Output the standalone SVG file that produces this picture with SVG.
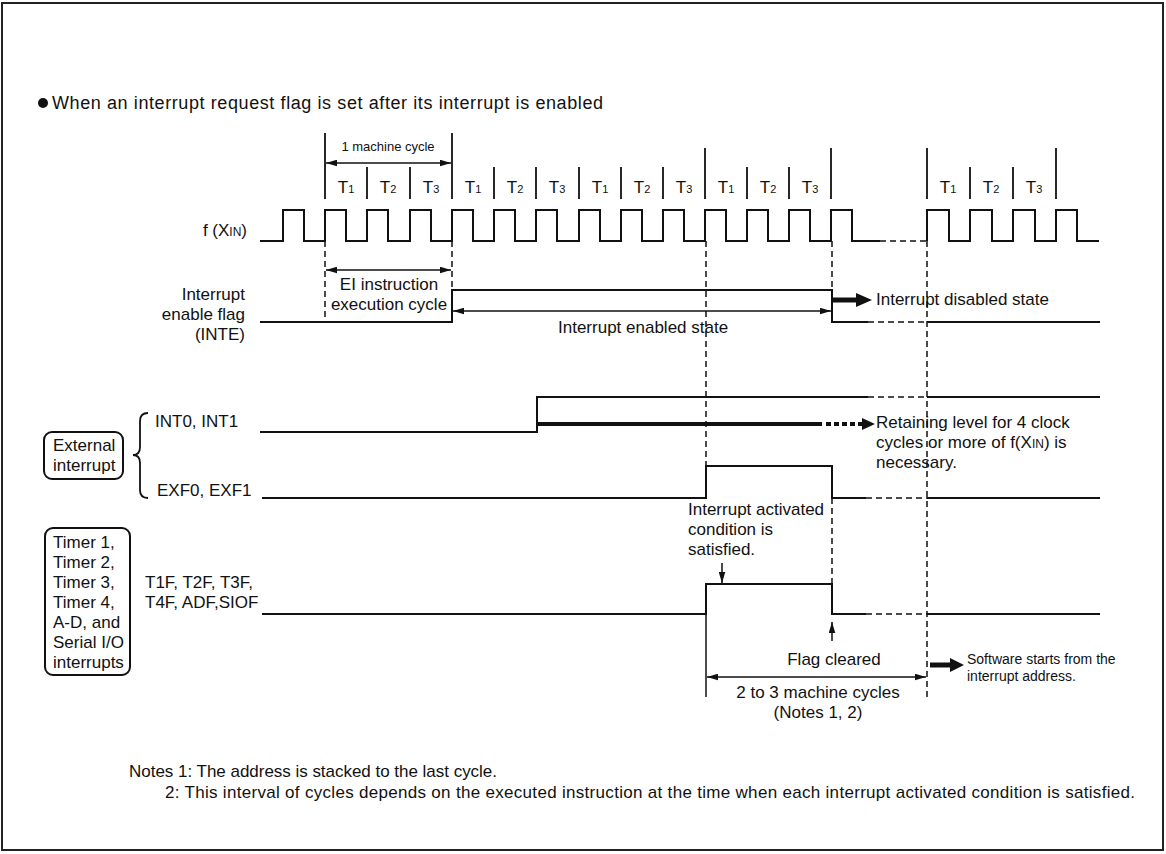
<svg xmlns="http://www.w3.org/2000/svg" width="1166" height="854" viewBox="0 0 1166 854">
<defs>
<marker id="ah" viewBox="0 0 10 6" refX="10" refY="3" markerWidth="11" markerHeight="7" markerUnits="userSpaceOnUse" orient="auto-start-reverse"><path d="M0,0 L10,3 L0,6 Z" fill="#111"/></marker>
</defs>
<style>
.t{font-family:"Liberation Sans",Arial,Helvetica,sans-serif;font-size:17px;fill:#111}
.m{text-anchor:middle}
.e{text-anchor:end}
.s{font-size:14px}
.xs{font-size:13px}
.h{font-size:18px}
.w{fill:none;stroke:#111;stroke-width:2}
.d{fill:none;stroke:#111;stroke-width:1.5;stroke-dasharray:6 4}
.a{fill:none;stroke:#111;stroke-width:1.5}
.k{fill:none;stroke:#111;stroke-width:1.8}
.box{fill:none;stroke:#111;stroke-width:2}
</style>
<rect x="0" y="0" width="1166" height="854" fill="#fff"/>
<rect x="2" y="3" width="1161" height="847" fill="none" stroke="#222" stroke-width="2"/>

<g id="title">
<circle cx="43" cy="103" r="5" fill="#111"/>
<text class="t h" x="52" y="109" textLength="551">When an interrupt request flag is set after its interrupt is enabled</text>
</g>

<g id="timing-scale">
<text class="t m xs" x="388" y="151">1 machine cycle</text>
<g class="k">
<path d="M325,133V199M452,133V199M705,148V199M831,148V199M927,148V199M1056,148V199"/>
<path d="M367,167V199M410,167V199M494,167V199M536,167V199M579,167V199M621,167V199M663,167V199M747,167V199M789,167V199M970,167V199M1013,167V199"/>
</g>
<g class="t m">
<text x="346" y="193">T<tspan font-size="11">1</tspan></text>
<text x="388" y="193">T<tspan font-size="11">2</tspan></text>
<text x="431" y="193">T<tspan font-size="11">3</tspan></text>
<text x="473" y="193">T<tspan font-size="11">1</tspan></text>
<text x="515" y="193">T<tspan font-size="11">2</tspan></text>
<text x="557" y="193">T<tspan font-size="11">3</tspan></text>
<text x="600" y="193">T<tspan font-size="11">1</tspan></text>
<text x="642" y="193">T<tspan font-size="11">2</tspan></text>
<text x="684" y="193">T<tspan font-size="11">3</tspan></text>
<text x="726" y="193">T<tspan font-size="11">1</tspan></text>
<text x="768" y="193">T<tspan font-size="11">2</tspan></text>
<text x="810" y="193">T<tspan font-size="11">3</tspan></text>
<text x="948" y="193">T<tspan font-size="11">1</tspan></text>
<text x="991" y="193">T<tspan font-size="11">2</tspan></text>
<text x="1034" y="193">T<tspan font-size="11">3</tspan></text>
</g>
</g>

<g id="clock">
<text class="t e" x="247" y="236">f (X<tspan font-size="12">IN</tspan>)</text>
<path class="w" d="M260,241H283V210H304V241H325V210H346V241H367V210H388V241H410V210H431V241H452V210H473V241H494V210H515V241H536V210H557V241H579V210H600V241H621V210H642V241H663V210H684V241H705V210H726V241H747V210H768V241H789V210H810V241H831V210H852V241H880"/>
<path class="d" d="M880,241H927"/>
<path class="w" d="M927,241V210H949V241H970V210H992V241H1013V210H1035V241H1056V210H1077V241H1099"/>
</g>

<g id="inte">
<text class="t e" x="245" y="300">Interrupt</text>
<text class="t e" x="245" y="320">enable flag</text>
<text class="t e" x="245" y="340">(INTE)</text>
<path class="w" d="M260,322H452V290H832V322H868"/>
<path class="d" d="M868,322H927"/>
<path class="w" d="M927,322H1100"/>
<text class="t m" x="389" y="290">EI instruction</text>
<text class="t m" x="389" y="310">execution cycle</text>
<text class="t" x="558" y="333">Interrupt enabled state</text>
<text class="t" x="876" y="305">Interrupt disabled state</text>
</g>

<g id="external-interrupt">
<rect class="box" x="44" y="432" width="79" height="47" rx="8"/>
<text class="t" x="53" y="451">External</text>
<text class="t" x="53" y="471">interrupt</text>
<path class="k" d="M148,413Q140,413 140,421V447Q140,455 133,455Q140,455 140,463V490Q140,498 148,498"/>
</g>

<g id="int0">
<text class="t" x="155" y="427">INT0, INT1</text>
<path class="w" d="M260,432H537V397H868"/>
<path class="d" d="M868,397H927"/>
<path class="w" d="M927,397H1100"/>
<text class="t" x="876" y="428">Retaining level for 4 clock</text>
<text class="t" x="876" y="448">cycles or more of f(X<tspan font-size="12">IN</tspan>) is</text>
<text class="t" x="876" y="468">necessary.</text>
</g>

<g id="exf0">
<text class="t" x="157" y="496">EXF0, EXF1</text>
<path class="w" d="M262,498H706V466H832V498H866"/>
<path class="d" d="M866,498H927"/>
<path class="w" d="M927,498H1100"/>
<text class="t" x="688" y="515">Interrupt activated</text>
<text class="t" x="688" y="535">condition is</text>
<text class="t" x="688" y="555">satisfied.</text>
</g>

<g id="timer-interrupts">
<rect class="box" x="45" y="528" width="85" height="147" rx="8"/>
<text class="t" x="53" y="548">Timer 1,</text>
<text class="t" x="53" y="568">Timer 2,</text>
<text class="t" x="53" y="588">Timer 3,</text>
<text class="t" x="53" y="608">Timer 4,</text>
<text class="t" x="53" y="628">A-D, and</text>
<text class="t" x="53" y="648">Serial I/O</text>
<text class="t" x="53" y="668">interrupts</text>
</g>

<g id="t1f">
<text class="t" x="145" y="588">T1F, T2F, T3F,</text>
<text class="t" x="145" y="608">T4F, ADF,SIOF</text>
<path class="w" d="M262,614H706V584H832V614H866"/>
<path class="d" d="M866,614H927"/>
<path class="w" d="M927,614H1100"/>
<text class="t m" x="834" y="665">Flag cleared</text>
<text class="t m" x="818" y="698">2 to 3 machine cycles</text>
<text class="t m" x="818" y="718">(Notes 1, 2)</text>
<text class="t s" x="967" y="664">Software starts from the</text>
<text class="t s" x="967" y="681">interrupt address.</text>
</g>

<g id="connectors">
<path class="d" d="M325,241V322M452,241V290M706,241V466M832,241V290M832,498V584M927,241V697"/>
<path class="a" d="M706,614V697"/>
<path class="a" d="M326,163H451" marker-start="url(#ah)" marker-end="url(#ah)"/>
<path class="a" d="M326,270H451" marker-start="url(#ah)" marker-end="url(#ah)"/>
<path class="a" d="M453,311H831" marker-start="url(#ah)" marker-end="url(#ah)"/>
<path class="a" d="M707,677H926" marker-start="url(#ah)" marker-end="url(#ah)"/>
<path class="a" d="M722,563V583" marker-end="url(#ah)"/>
<path class="a" d="M832,641V622" marker-end="url(#ah)"/>
<path d="M832,300H858" stroke="#111" stroke-width="5"/>
<path d="M856,293L872,300L856,307Z" fill="#111"/>
<path d="M930,665H952" stroke="#111" stroke-width="5"/>
<path d="M950,658L964,665L950,672Z" fill="#111"/>
<path d="M537,424H822" stroke="#111" stroke-width="4"/>
<path d="M826,424H862" stroke="#111" stroke-width="4" stroke-dasharray="5 3"/>
<path d="M862,418L875,424L862,430Z" fill="#111"/>
</g>

<g id="notes">
<text class="t" x="129" y="777" textLength="368">Notes 1: The address is stacked to the last cycle.</text>
<text class="t" x="165" y="798" textLength="970">2: This interval of cycles depends on the executed instruction at the time when each interrupt activated condition is satisfied.</text>
</g>
</svg>
